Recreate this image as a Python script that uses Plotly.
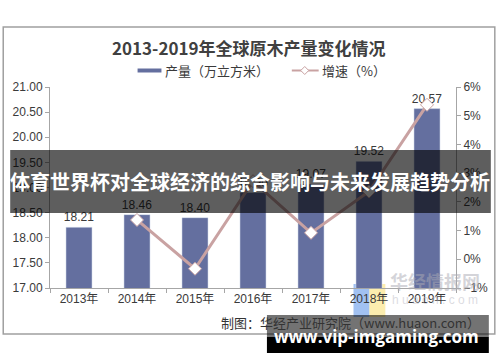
import plotly.graph_objects as go

years = ["2013年", "2014年", "2015年", "2016年", "2017年", "2018年", "2019年"]
production = [18.21, 18.46, 18.40, 18.90, 19.07, 19.52, 20.57]
growth = [None, 1.37, -0.33, 2.72, 0.92, 2.36, 5.38]

title_text = "2013-2019年全球原木产量变化情况"
legend_bar = "产量（万立方米）"
legend_line = "增速（%）"
source_text = "制图：华经产业研究院（www.huaon.com）"
banner_text = "体育世界杯对全球经济的综合影响与未来发展趋势分析"
footer_text = "www.vip-imgaming.com"

BAR_COLOR = "#646F9F"
LINE_COLOR = "#C9A2A2"
TXT = "#3a3a3a"
AXC = "#A6A6A6"
FONT = "Liberation Sans, Noto Sans CJK SC, sans-serif"
CJK = "Noto Sans CJK SC, sans-serif"

L, R, T, B = 50, 458, 87, 288
W, H = R - L, B - T


def px(x):
    return (x - L) / W


def py(y):
    return (B - y) / H


fig = go.Figure()
fig.add_trace(go.Bar(
    x=years, y=production, width=0.45, marker_color=BAR_COLOR,
    text=[f"{v:.2f}" for v in production], textposition="outside",
    constraintext="none",
    textfont=dict(size=12, color=TXT, family=FONT), cliponaxis=False,
    showlegend=False,
))
fig.add_trace(go.Scatter(
    x=years, y=growth, yaxis="y2", mode="lines+markers",
    line=dict(color=LINE_COLOR, width=3),
    marker=dict(symbol="diamond", size=10, color="white",
                line=dict(color=LINE_COLOR, width=1)),
    showlegend=False, cliponaxis=False,
))

shapes = [
    # outer frame
    dict(type="rect", xref="paper", yref="paper", x0=px(3), x1=px(497),
         y0=py(334), y1=py(27), line=dict(color="#A0A0A0", width=1.5), layer="below"),
    # logo watermark
    dict(type="rect", xref="paper", yref="paper", x0=px(355), x1=px(371),
         y0=py(317), y1=py(284), fillcolor="rgba(110,160,235,0.65)", line=dict(width=0), layer="below"),
    dict(type="rect", xref="paper", yref="paper", x0=px(371), x1=px(387),
         y0=py(317), y1=py(284), fillcolor="rgba(250,225,120,0.6)", line=dict(width=0), layer="below"),
    # legend swatches
    dict(type="rect", xref="paper", yref="paper", x0=px(138), x1=px(162),
         y0=py(72.5), y1=py(68.5), fillcolor=BAR_COLOR, line=dict(width=0)),
    dict(type="line", xref="paper", yref="paper", x0=px(293), x1=px(320),
         y0=py(70.5), y1=py(70.5), line=dict(color=LINE_COLOR, width=2)),
    dict(type="path", xref="paper", yref="paper",
         path=f"M {px(302)},{py(70.5)} L {px(306)},{py(66.5)} L {px(310)},{py(70.5)} L {px(306)},{py(74.5)} Z",
         fillcolor="white", line=dict(color=LINE_COLOR, width=1)),
    # overlay banner
    dict(type="rect", xref="paper", yref="paper", x0=px(10), x1=px(493),
         y0=py(213), y1=py(150), fillcolor="rgba(0,0,0,0.63)", line=dict(width=0), layer="above"),
    # footer bands
    dict(type="rect", xref="paper", yref="paper", x0=px(268), x1=px(491),
         y0=py(337), y1=py(315), fillcolor="rgba(0,0,0,0.55)", line=dict(width=0), layer="above"),
    dict(type="rect", xref="paper", yref="paper", x0=px(268), x1=px(491),
         y0=py(353), y1=py(337), fillcolor="black", line=dict(width=0), layer="above"),
]


def ann(text, x, y, size, color, family, xanchor="center", bold=False):
    return dict(text=f"<b>{text}</b>" if bold else text, x=px(x), y=py(y),
                xref="paper", yref="paper", xanchor=xanchor, yanchor="middle",
                showarrow=False, font=dict(size=size, color=color, family=family))


annotations = [
    ann(title_text, 250, 47, 17, "#404040", CJK, bold=True),
    ann(legend_bar, 164, 70, 13, TXT, CJK, xanchor="left"),
    ann(legend_line, 321, 70, 13, TXT, CJK, xanchor="left"),
    ann("华经情报网", 437, 281, 18, "rgba(170,170,180,0.5)", CJK, bold=True),
    ann("h u a o n . c o m", 437, 300, 12, "rgba(185,185,195,0.5)", FONT),
    ann(source_text, 484, 322, 13, "#333333", CJK, xanchor="right"),
    ann(banner_text, 251, 181, 20, "white", CJK, bold=True),
    ann(footer_text, 378, 336, 17, "white", "Open Sans, sans-serif", bold=True),
]

fig.update_layout(
    width=500, height=362,
    margin=dict(l=L, r=500 - R, t=T, b=362 - B, pad=0),
    paper_bgcolor="white", plot_bgcolor="white",
    bargap=0.55, showlegend=False,
    font=dict(family=FONT, color=TXT, size=12),
    xaxis=dict(showline=True, linecolor=AXC, ticks="outside", tickson="boundaries",
               ticklen=4, tickcolor=AXC, tickfont=dict(size=12, color=TXT, family=FONT),
               showgrid=False, fixedrange=True),
    yaxis=dict(range=[17, 21], dtick=0.5, tickformat=".2f", showgrid=False, zeroline=False,
               showline=True, linecolor=AXC, ticks="outside", ticklen=4, tickcolor=AXC,
               tickfont=dict(size=12, color=TXT, family=FONT)),
    yaxis2=dict(range=[-1, 6], dtick=1, ticksuffix="%", overlaying="y", side="right",
                showgrid=False, zeroline=False, showline=True, linecolor=AXC,
                ticks="outside", ticklen=4, tickcolor=AXC,
                tickfont=dict(size=12, color=TXT, family=FONT)),
    shapes=shapes, annotations=annotations,
)

fig.write_html("out.html")
